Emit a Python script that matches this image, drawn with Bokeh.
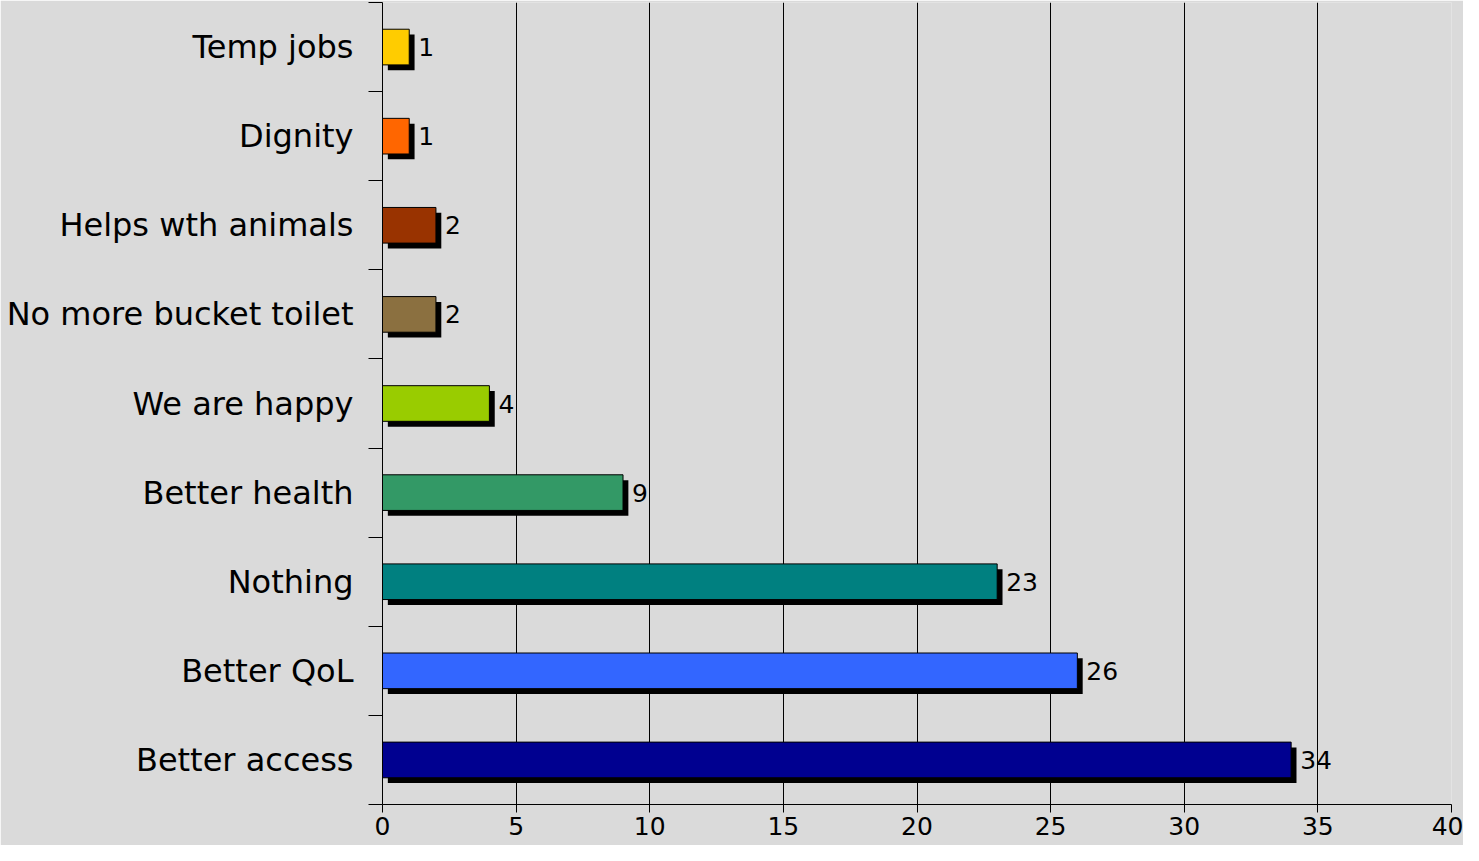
from bokeh.plotting import figure
from bokeh.models import Range1d, FixedTicker, ColumnDataSource
from bokeh.core.properties import value
from bokeh.embed import file_html
from bokeh.resources import INLINE

# Data (bottom to top)
categories = ["Better access", "Better QoL", "Nothing", "Better health", "We are happy",
              "No more bucket toilet", "Helps wth animals", "Dignity", "Temp jobs"]
counts = [34, 26, 23, 9, 4, 2, 2, 1, 1]
colors = ["#000090", "#3366FF", "#008080", "#339966", "#99CC00",
          "#8B7040", "#993300", "#FF6600", "#FFCC00"]
x_ticks = [0, 5, 10, 15, 20, 25, 30, 35, 40]

n = len(categories)
centers = [i + 0.5 for i in range(n)]
bounds = list(range(n + 1))
dx_sh = 0.2    # shadow offset in x (data units)
dy_sh = 0.06   # shadow offset in y (data units)

src = ColumnDataSource(dict(
    y=centers, right=counts, color=colors,
    ys=[c - dy_sh for c in centers],
    rs=[v + dx_sh for v in counts],
    lab=[str(v) for v in counts],
))

bg = "#dadada"
p = figure(width=1463, height=845, output_backend="svg", toolbar_location=None,
           x_range=Range1d(0, 40), y_range=Range1d(0, n),
           min_border_left=382, min_border_right=12, min_border_top=2, min_border_bottom=41)
p.background_fill_color = bg
p.border_fill_color = bg
p.outline_line_color = None

# shadows
p.hbar(y="ys", left=dx_sh, right="rs", height=0.4, source=src,
       fill_color="black", line_color=None)
# bars
p.hbar(y="y", left=0, right="right", height=0.4, source=src,
       fill_color="color", line_color="black", line_width=1)
# value labels
p.text(x="right", y="y", text="lab", source=src, x_offset=9,
       text_align="left", text_baseline="middle",
       text_font=value("DejaVu Sans"), text_font_size="25px", text_color="black")

# x axis
xa = p.xaxis[0]
xa.ticker = FixedTicker(ticks=x_ticks)
xa.major_tick_out = 8
xa.major_tick_in = 0
xa.minor_tick_out = 0
xa.minor_tick_in = 0
xa.axis_line_color = "black"
xa.major_tick_line_color = "black"
xa.major_label_text_font = "DejaVu Sans"
xa.major_label_text_font_size = "25px"
xa.major_label_text_color = "black"
xa.major_label_standoff = 4

# y axis
ya = p.yaxis[0]
ya.ticker = FixedTicker(ticks=centers, minor_ticks=bounds)
ya.major_label_overrides = {c: name for c, name in zip(centers, categories)}
ya.major_tick_out = 0
ya.major_tick_in = 0
ya.minor_tick_out = 14
ya.minor_tick_in = 0
ya.minor_tick_line_color = "black"
ya.axis_line_color = "black"
ya.major_label_text_font = "DejaVu Sans"
ya.major_label_text_font_size = "32px"
ya.major_label_text_color = "black"
ya.major_label_standoff = 15

p.xgrid.grid_line_color = "black"
p.xgrid.grid_line_width = 1
p.xgrid.grid_line_alpha = 1
p.ygrid.grid_line_color = None

open("out.html", "w").write(file_html(p, INLINE))
